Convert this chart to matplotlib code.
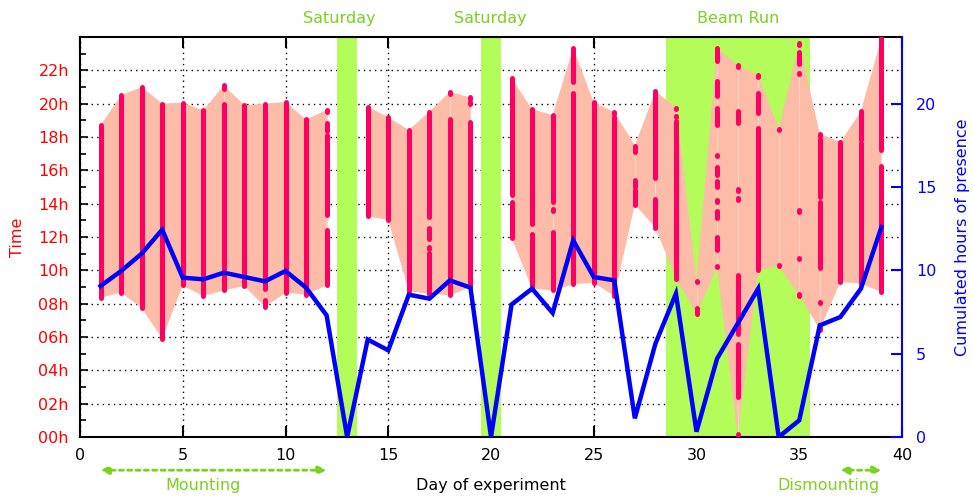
import numpy as np
import matplotlib
matplotlib.use("Agg")
import matplotlib.pyplot as plt
from matplotlib.transforms import blended_transform_factory

# presence intervals per day (hours, start/end); short ones are single badge hits
days = list(range(1, 40))
segments = [
    [(8.36, 18.7)],
    [(8.66, 20.5)],
    [(7.74, 21.0)],
    [(5.9, 20.0)],
    [(9.1, 20.05)],
    [(8.44, 19.6)],
    [(8.8, 20.0), (20.9, 21.1)],
    [(9.06, 19.9)],
    [(7.8, 8.2), (8.9, 20.0)],
    [(8.66, 20.1)],
    [(8.54, 19.05)],
    [(9.1, 12.44), (13.35, 18.14), (18.38, 18.82), (19.5, 19.62)],
    [],
    [(13.23, 19.82)],
    [(13.03, 19.18)],
    [(8.74, 18.42)],
    [(8.6, 11.04), (11.3, 11.4), (11.9, 12.56), (13.22, 19.52)],
    [(8.5, 19.06), (20.6, 20.7)],
    [(9.0, 18.92), (19.97, 20.07), (20.27, 20.37)],
    [],
    [(11.96, 14.09), (14.53, 21.54)],
    [(8.9, 12.2), (12.75, 19.66)],
    [(8.8, 12.3), (13.58, 13.68), (14.09, 19.32)],
    [(9.16, 20.64), (21.33, 23.33)],
    [(9.26, 20.08)],
    [(8.46, 19.22), (19.4, 19.5)],
    [(13.95, 14.83), (14.99, 15.43), (17.08, 17.49)],
    [(12.56, 13.85), (13.95, 14.29), (15.55, 20.58), (20.67, 20.75)],
    [(9.5, 18.94), (19.17, 19.27), (19.67, 19.77)],
    [(7.4, 7.74), (9.29, 9.39)],
    [(10.19, 10.29), (11.2, 12.03), (13.16, 13.57), (14.1, 14.2), (15.03, 15.39),
     (15.75, 16.23), (16.85, 16.95), (18.72, 19.72), (20.48, 21.38), (22.55, 23.33)],
    [(0.1, 0.2), (2.41, 5.61), (6.2, 9.74), (14.24, 14.34), (14.78, 14.88),
     (18.82, 19.58), (22.2, 22.3)],
    [(10.0, 18.54), (19.44, 20.66), (21.6, 21.7)],
    [(10.25, 10.35), (18.39, 18.49)],
    [(8.49, 8.59), (10.67, 10.77), (13.5, 13.6), (21.76, 21.86), (22.37, 23.07), (23.52, 23.62)],
    [(6.45, 6.75), (8.02, 8.12), (10.14, 14.09), (14.39, 17.89), (18.09, 18.19)],
    [(9.3, 17.7)],
    [(9.2, 17.43), (17.53, 17.63), (17.84, 19.54)],
    [(8.7, 16.29), (17.19, 23.95)],
]
cumulated = [9.06, 9.96, 11.0, 12.44, 9.56, 9.46, 9.86, 9.6, 9.34, 9.96,
             8.96, 7.3, 0.0, 5.85, 5.2, 8.54, 8.3, 9.4, 8.96, 0.0,
             7.95, 8.9, 7.44, 11.8, 9.6, 9.4, 1.12, 5.6, 8.6, 0.32,
             4.7, 6.8, 8.9, 0.0, 1.0, 6.7, 7.2, 8.9, 12.6]

bands = [(12.5, 13.5), (19.5, 20.5), (28.5, 35.5)]
band_labels = [("Saturday", 12.6), ("Saturday", 19.95), ("Beam Run", 32.05)]
phases = [("Mounting", 1, 12, 6.0), ("Dismounting", 37, 39, 36.4)]

RED = "#ff0000"
BAR = "#ff0062"
FILL = "#fcbca8"
GREEN = "#b4fc5a"
GREEN_TXT = "#78d21e"
BLUE = "#0000ff"
FS = 11.5

W, H = 973, 497
fig = plt.figure(figsize=(W / 100, H / 100), dpi=100)
ax = fig.add_axes([80 / W, 1 - 437 / H, 822 / W, 400 / H])
ax.set_xlim(0, 40)
ax.set_ylim(0, 24)

for a, b in bands:
    ax.axvspan(a, b, color=GREEN, lw=0, zorder=1)

# envelope of first arrival / last departure, broken on days without data
x = np.array(days, dtype=float)
lo = np.array([min(s for s, _ in seg) if seg else np.nan for seg in segments])
hi = np.array([max(e for _, e in seg) if seg else np.nan for seg in segments])
have = ~np.isnan(lo)
ax.fill_between(x, lo, hi, where=have, color=FILL, lw=0, zorder=2)

for d, seg in zip(days, segments):
    if not seg:
        continue
    ax.vlines(d, min(s for s, _ in seg), max(e for _, e in seg),
              color="#ffd2c4", lw=0.8, zorder=3)
    ax.vlines([d] * len(seg), [s for s, _ in seg], [e for _, e in seg],
              color=BAR, lw=3.6, capstyle="round", zorder=4)

ax.set_xticks(range(0, 41, 5))
ax.set_yticks(range(0, 24, 2))
ax.set_yticklabels([f"{h:02d}h" for h in range(0, 24, 2)])
ax.set_yticks(range(0, 24), minor=True)
ax.tick_params(axis="y", which="major", direction="in", length=6, width=1.2,
               colors=RED, labelsize=FS, pad=8)
ax.tick_params(axis="y", which="minor", direction="in", length=4, width=1.2, color="black")
ax.tick_params(axis="y", which="major", color="black")
ax.tick_params(axis="x", direction="in", length=8, width=1.5, top=True,
               labelsize=FS, pad=8)
ax.grid(True, ls=(0, (1, 3)), color="black", lw=1, zorder=0)
ax.set_axisbelow(True)
for side in ("left", "bottom", "top"):
    ax.spines[side].set_linewidth(1.5)
ax.spines["right"].set_visible(False)

ax2 = ax.twinx()
ax2.set_ylim(0, 24)
ax2.set_yticks(range(0, 21, 5))
ax2.plot(days, cumulated, color=BLUE, lw=3.2, solid_joinstyle="miter", zorder=5)
ax2.tick_params(axis="y", direction="in", length=8, width=1.5, colors=BLUE,
                labelsize=FS, pad=10)
ax2.spines["right"].set_color(BLUE)
ax2.spines["right"].set_linewidth(1.5)
for side in ("left", "bottom", "top"):
    ax2.spines[side].set_visible(False)

trans = blended_transform_factory(ax.transData, ax.transAxes)
for text, xc in band_labels:
    ax.text(xc, 1.047, text, transform=trans, ha="center", va="center",
            color=GREEN_TXT, fontsize=FS)

for text, a, b, xc in phases:
    ax.annotate("", xy=(a, -0.083), xytext=(b, -0.083), xycoords=trans,
                textcoords=trans, annotation_clip=False,
                arrowprops=dict(arrowstyle="<|-|>", ls=(0, (1.5, 1.5)), lw=2,
                                color=GREEN_TXT, mutation_scale=12,
                                shrinkA=0, shrinkB=0))
    ax.text(xc, -0.122, text, transform=trans, ha="center", va="center",
            color=GREEN_TXT, fontsize=FS)

ax.text(20, -0.122, "Day of experiment", transform=trans, ha="center",
        va="center", fontsize=FS)
fig.text(18 / W, 1 - 237 / H, "Time", rotation=90, ha="center", va="center",
         color=RED, fontsize=FS)
fig.text(962 / W, 1 - 237 / H, "Cumulated hours of presence", rotation=90,
         ha="center", va="center", color=BLUE, fontsize=FS)

fig.savefig("out.png", dpi=100)
